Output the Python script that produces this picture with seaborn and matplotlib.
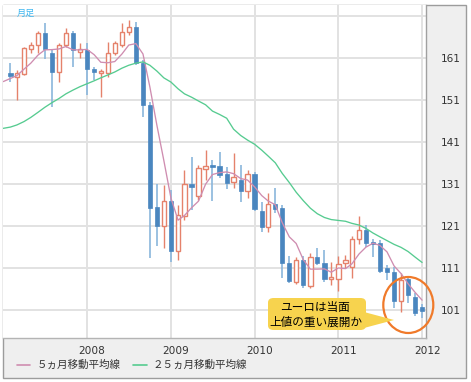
import numpy as np
import pandas as pd
import matplotlib
matplotlib.use("Agg")
import matplotlib.pyplot as plt
import matplotlib.dates as mdates
from matplotlib.patches import Rectangle, Ellipse, FancyBboxPatch, Polygon
from matplotlib.lines import Line2D
from matplotlib.transforms import ScaledTranslation
import seaborn as sns

# monthly candles, Feb 2007 .. Jan 2012
open_ = [157.3, 156.5, 157.1, 163.0, 164.0, 166.8, 162.2, 157.7, 164.0, 166.9, 162.4,
         162.8, 158.3, 157.4, 157.4, 162.2, 164.0, 167.1, 168.4, 159.7, 149.8, 125.6, 121.0,
         126.9, 115.0, 123.4, 130.9, 128.1, 134.5, 135.3, 135.2, 133.3, 131.4, 131.9, 129.4,
         133.3, 124.6, 120.8, 126.2, 125.2, 112.1, 107.7, 112.9, 106.6, 113.7, 112.2, 108.3,
         108.3, 112.1, 111.3, 117.8, 120.0, 117.2, 116.9, 110.9, 110.1, 103.2, 108.3, 104.0,
         101.6]
high = [159.7, 158.0, 163.6, 164.8, 167.3, 169.2, 163.0, 164.4, 168.0, 167.4, 164.4,
        164.4, 158.9, 158.3, 164.8, 165.0, 169.2, 170.0, 169.6, 160.5, 150.5, 130.9, 130.7,
        129.5, 125.9, 134.3, 137.5, 135.5, 139.1, 136.7, 138.6, 135.0, 138.4, 135.5, 134.3,
        133.9, 126.8, 128.8, 129.9, 126.0, 113.8, 113.5, 113.8, 114.5, 115.7, 115.3, 112.4,
        113.9, 114.0, 118.5, 123.4, 121.2, 117.8, 117.6, 111.7, 111.3, 109.7, 109.0, 105.0,
        102.5]
low = [155.3, 151.0, 156.8, 162.0, 162.0, 160.6, 149.3, 155.3, 163.5, 158.9, 161.0,
       152.1, 155.7, 151.7, 156.5, 161.6, 163.5, 166.5, 159.3, 147.0, 113.4, 116.2, 115.8,
       112.3, 113.0, 122.4, 124.8, 127.2, 131.9, 127.0, 132.3, 129.7, 129.9, 126.8, 127.6,
       124.5, 119.6, 119.6, 124.0, 108.5, 107.5, 107.3, 106.2, 106.2, 111.8, 107.7, 107.0,
       105.6, 111.0, 108.6, 116.8, 116.0, 113.7, 109.9, 108.1, 101.4, 100.6, 102.6, 99.5,
       99.0]
close = [156.7, 157.3, 163.2, 164.0, 166.8, 163.0, 157.6, 164.0, 166.9, 162.8, 163.0,
         158.2, 157.7, 157.9, 162.2, 164.4, 167.1, 168.4, 159.7, 149.8, 125.3, 121.0, 126.9,
         115.0, 123.6, 130.9, 130.2, 134.7, 135.2, 135.1, 133.1, 131.1, 132.6, 129.4, 133.3,
         124.9, 120.8, 126.2, 124.9, 112.1, 108.0, 112.9, 106.9, 113.7, 112.1, 108.3, 108.9,
         112.0, 112.9, 117.8, 120.0, 117.0, 116.7, 110.3, 110.1, 103.2, 108.1, 104.5, 100.2,
         100.7]
# closes Sep 2006 .. Jan 2007 (before the first visible candle)
close_prior = [153.0, 154.0, 155.5, 156.8, 157.3]

# 25-month average, Jan 2007 .. Jan 2012
ma25 = [144.2, 144.5, 145.0, 145.8, 146.8, 148.0, 149.2, 150.3, 151.3, 152.4, 153.3,
        154.1, 154.8, 155.5, 156.2, 156.9, 157.6, 158.5, 159.2, 159.7, 160.0, 159.2, 157.8,
        156.2, 155.2, 153.6, 152.4, 151.6, 150.7, 149.8, 148.3, 147.5, 146.6, 144.0, 142.5,
        141.4, 140.4, 139.0, 137.6, 136.0, 133.5, 131.3, 129.0, 127.0, 125.2, 123.9, 123.0,
        122.5, 122.3, 122.1, 121.6, 121.2, 120.4, 119.3, 118.4, 117.5, 116.6, 115.9, 114.9,
        113.6, 112.3]

price_ticks = [101, 111, 121, 131, 141, 151, 161, 171]
year_ticks = ["2008", "2009", "2010", "2011", "2012"]
legend_labels = ["５ヵ月移動平均線", "２５ヵ月移動平均線"]
note_lines = ["ユーロは当面", "上値の重い展開か"]

candles = pd.DataFrame({
    "date": pd.date_range("2007-02-01", periods=len(close), freq="MS"),
    "open": open_, "high": high, "low": low, "close": close,
})
all_close = pd.Series(close_prior + close)
ma = pd.DataFrame({
    "date": pd.date_range("2007-01-01", periods=len(ma25), freq="MS"),
    "ma5": all_close.rolling(5).mean().dropna().values,
    "ma25": ma25,
})

sns.set_theme(style="white")
plt.rcParams["font.family"] = ["DejaVu Sans", "Noto Sans CJK JP"]
JP = ["Noto Sans CJK JP", "DejaVu Sans"]

W, H = 471, 382
fig = plt.figure(figsize=(W / 100, H / 100), dpi=100)
fig.patch.set_facecolor("white")

def fx(px):
    return px / W

def fy(py):
    return 1 - py / H

# gray frame behind everything (axis panels)
fig.patches.append(Rectangle((fx(3), fy(378)), fx(466) - fx(3), fy(5) - fy(378),
                             transform=fig.transFigure, facecolor="#efefef",
                             edgecolor="#9c9c9c", lw=1, zorder=-5))

ax = fig.add_axes([fx(3), fy(338), fx(426) - fx(3), fy(5) - fy(338)])
ax.set_facecolor("white")

x = mdates.date2num(candles["date"])
up = candles["close"] >= candles["open"]
red, blue, blue_wick = "#e5826b", "#4a86bf", "#8ab6dc"

ax.vlines(x[up], candles["low"][up], candles["high"][up], color=red, lw=1, zorder=2)
ax.vlines(x[~up], candles["low"][~up], candles["high"][~up], color=blue_wick, lw=1.2, zorder=2)
body_lo = candles[["open", "close"]].min(axis=1)
body_h = (candles["close"] - candles["open"]).abs().clip(lower=0.35)
ax.bar(x[up], body_h[up], bottom=body_lo[up], width=19, facecolor="white",
       edgecolor=red, lw=1, zorder=3)
ax.bar(x[~up], body_h[~up], bottom=body_lo[~up], width=19, facecolor=blue,
       edgecolor=blue, lw=0.5, zorder=3)

sns.lineplot(data=ma, x="date", y="ma5", color="#cf8db0", lw=0.95, ax=ax, zorder=4)
sns.lineplot(data=ma, x="date", y="ma25", color="#56cb90", lw=0.95, ax=ax, zorder=4)

x0 = mdates.date2num(pd.Timestamp("2007-01-01"))
ax.set_xlim(x0 - 1.3, mdates.date2num(pd.Timestamp("2012-01-18")))
ax.set_ylim(94.34, 173.53)
ax.set_xlabel("")
ax.set_ylabel("")

ax.yaxis.tick_right()
ax.set_yticks(price_ticks)
ax.set_yticklabels([str(t) if t < 171 else "" for t in price_ticks])
ax.set_xticks(mdates.date2num(pd.to_datetime([y + "-01-01" for y in year_ticks])))
ax.set_xticklabels(year_ticks)
ax.tick_params(axis="y", length=0, pad=10.5, labelsize=7.6, labelcolor="#333333")
ax.tick_params(axis="x", length=0, pad=5.5, labelsize=7.6, labelcolor="#333333")
for lab in ax.get_xticklabels():
    lab.set_transform(lab.get_transform() + ScaledTranslation(0.05, 0, fig.dpi_scale_trans))

ax.grid(True, color="#e2e2e2", lw=1.4)
ax.set_axisbelow(True)
for side in ["left", "top"]:
    ax.spines[side].set_visible(False)
ax.spines["right"].set_color("#a0a0a0")
ax.spines["bottom"].set_color("#b4b4b4")
ax.spines["right"].set_linewidth(1)
ax.spines["bottom"].set_linewidth(1)

fig.text(fx(17), fy(13), "月足", family=JP, fontsize=6.6, color="#3db6f0", va="center")

# annotation: circle and speech bubble
fig.patches.append(Ellipse((fx(408.3), fy(305)), fx(50), 56 / H, transform=fig.transFigure,
                           facecolor="none", edgecolor="#f07a2a", lw=1.6, zorder=6))
bubble = "#f7d34e"
fig.patches.append(Polygon([(fx(364), fy(312)), (fx(364), fy(328)), (fx(394), fy(320))],
                           closed=True, transform=fig.transFigure, facecolor=bubble,
                           edgecolor="none", zorder=6))
fig.patches.append(FancyBboxPatch((fx(268), fy(330)), fx(98), fy(298) - fy(330),
                                  boxstyle="round,pad=0,rounding_size=0.012",
                                  transform=fig.transFigure, facecolor=bubble,
                                  edgecolor="none", zorder=6))
fig.text(fx(315), fy(307), note_lines[0], family=JP, fontsize=8.4, color="black",
         ha="center", va="center", zorder=7)
fig.text(fx(316), fy(322), note_lines[1], family=JP, fontsize=8.4, color="black",
         ha="center", va="center", zorder=7)

# legend
for (x1, x2, tx), col, lab in zip([(17, 30, 37), (133, 147, 153)],
                                  ["#cf8db0", "#56cb90"], legend_labels):
    fig.add_artist(Line2D([fx(x1), fx(x2)], [fy(365), fy(365)], transform=fig.transFigure,
                          color=col, lw=1.2))
    fig.text(fx(tx), fy(365), lab, family=JP, fontsize=7.6, color="#333333", va="center")

fig.savefig("out.png", dpi=100, facecolor="white")
